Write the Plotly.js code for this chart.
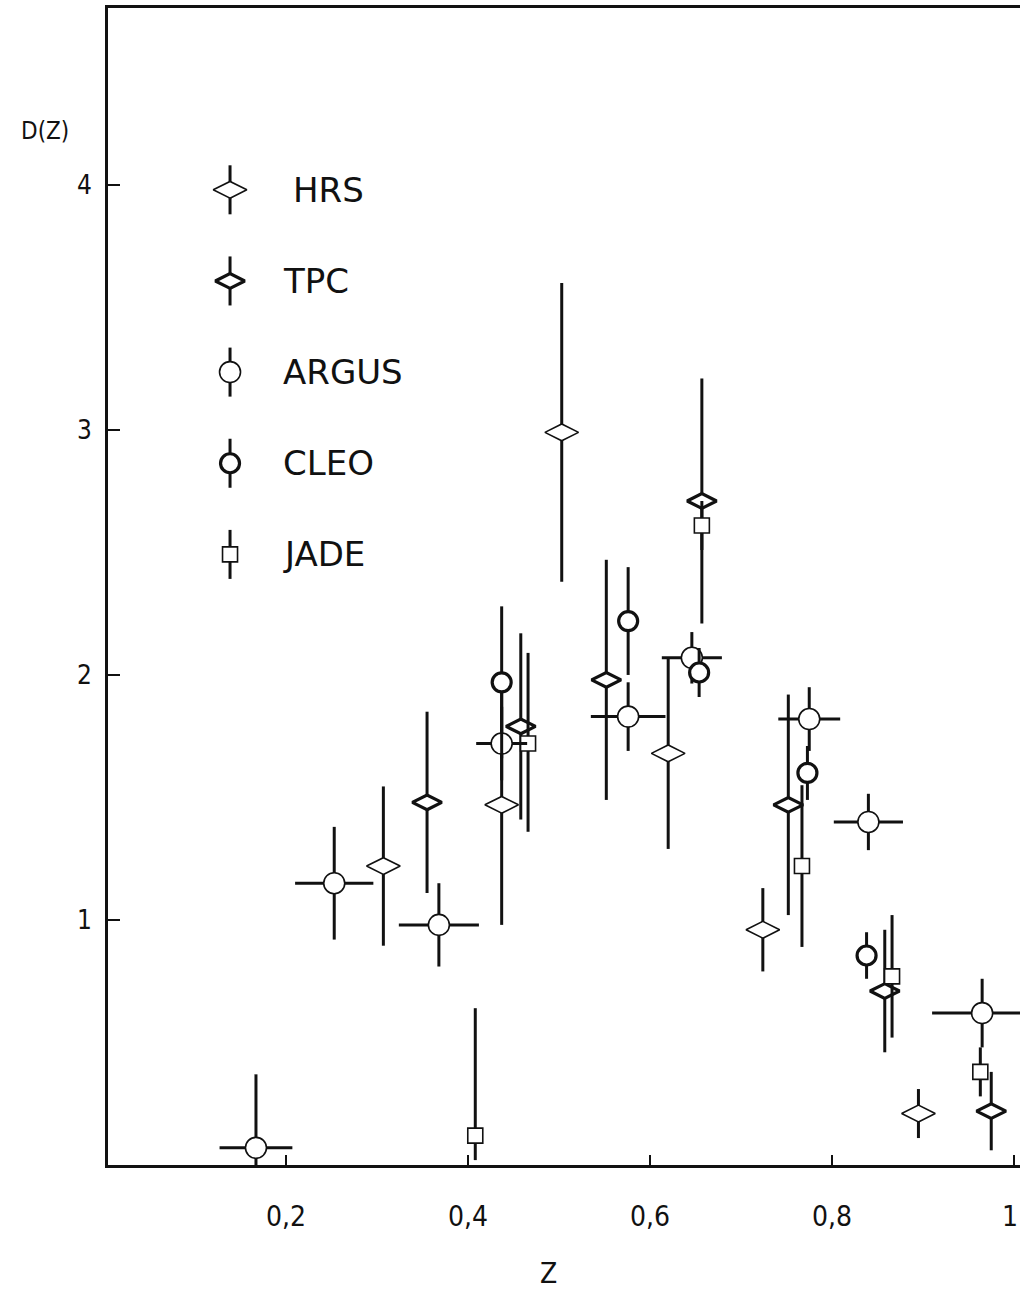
<!DOCTYPE html>
<html>
<head>
<meta charset="utf-8">
<script src="https://cdn.plot.ly/plotly-3.0.1.min.js"></script>
<style>
  html, body { margin: 0; padding: 0; background: #fff; }
  #chart { width: 1020px; height: 1291px; }
</style>
</head>
<body>
<div id="chart"></div>
<script>
// ---------------- data ----------------
const seriesNames = ["HRS", "TPC", "ARGUS", "CLEO", "JADE"];

const hrsZ = [0.307, 0.437, 0.503, 0.620, 0.724, 0.895];
const hrsD = [1.22, 1.47, 2.99, 1.68, 0.96, 0.21];
const hrsErr = [0.325, 0.49, 0.61, 0.39, 0.17, 0.10];

const tpcZ = [0.355, 0.458, 0.552, 0.657, 0.752, 0.858, 0.975];
const tpcD = [1.48, 1.79, 1.98, 2.71, 1.47, 0.71, 0.22];
const tpcErr = [0.37, 0.38, 0.49, 0.50, 0.45, 0.25, 0.16];

const argusZ = [0.167, 0.253, 0.368, 0.437, 0.576, 0.646, 0.775, 0.840, 0.965];
const argusD = [0.07, 1.15, 0.98, 1.72, 1.83, 2.07, 1.82, 1.40, 0.62];
const argusErrUp = [0.30, 0.23, 0.17, 0.15, 0.14, 0.105, 0.13, 0.115, 0.14];
const argusErrDown = [0.07, 0.23, 0.17, 0.15, 0.14, 0.105, 0.13, 0.115, 0.14];
const argusZErr = [0.040, 0.043, 0.044, 0.028, 0.041, 0.033, 0.034, 0.038, 0.055];

const cleoZ = [0.437, 0.576, 0.654, 0.773, 0.838];
const cleoD = [1.97, 2.22, 2.01, 1.60, 0.855];
const cleoErr = [0.31, 0.22, 0.10, 0.11, 0.095];

const jadeZ = [0.408, 0.466, 0.657, 0.767, 0.866, 0.963];
const jadeD = [0.12, 1.72, 2.61, 1.22, 0.77, 0.38];
const jadeErrUp = [0.52, 0.37, 0.10, 0.33, 0.25, 0.10];
const jadeErrDown = [0.10, 0.36, 0.10, 0.33, 0.25, 0.10];

const xTickVals = [0.2, 0.4, 0.6, 0.8, 1.0];
const xTickText = ["0,2", "0,4", "0,6", "0,8", "1"];
const yTickVals = [1, 2, 3, 4];
const yTickText = ["1", "2", "3", "4"];

// ---------------- styles ----------------
const INK = "#111";
const BAR_W = 3;
const TICK_FONT = { family: "DejaVu Sans Condensed, DejaVu Sans, sans-serif", size: 28, color: INK };
const markerStyles = {
  HRS:   { symbol: "diamond-wide", size: 24, color: "#fff", line: { color: INK, width: 1.6 } },
  TPC:   { symbol: "diamond-wide", size: 21, color: "#fff", line: { color: INK, width: 3.2 } },
  ARGUS: { symbol: "circle", size: 21, color: "#fff", line: { color: INK, width: 1.6 } },
  CLEO:  { symbol: "circle", size: 19, color: "#fff", line: { color: INK, width: 3.2 } },
  JADE:  { symbol: "square", size: 15, color: "#fff", line: { color: INK, width: 1.6 } }
};

function vErr(plus, minus) {
  const e = { type: "data", symmetric: minus === undefined, array: plus,
              color: INK, thickness: BAR_W, width: 0 };
  if (minus !== undefined) e.arrayminus = minus;
  return e;
}

function series(name, z, d, ey, extra) {
  return Object.assign({
    type: "scatter", mode: "markers", name: name, x: z, y: d,
    marker: markerStyles[name], error_y: ey, showlegend: false,
    cliponaxis: false, hoverinfo: "x+y+name"
  }, extra || {});
}

const traces = [
  series("HRS", hrsZ, hrsD, vErr(hrsErr)),
  series("TPC", tpcZ, tpcD, vErr(tpcErr)),
  series("JADE", jadeZ, jadeD, vErr(jadeErrUp, jadeErrDown)),
  series("ARGUS", argusZ, argusD, vErr(argusErrUp, argusErrDown), {
    error_x: { type: "data", symmetric: true, array: argusZErr, color: INK, thickness: BAR_W, width: 0 }
  }),
  series("CLEO", cleoZ, cleoD, vErr(cleoErr))
];

// ---------------- legend (drawn inside the frame, as in the original) ----------------
const LEG_Z = 0.1385, LEG_TOP = 3.98, LEG_STEP = 0.372, LEG_BAR = 0.10, LEG_TEXT_Z = 0.194;
const annotations = [];
seriesNames.forEach((name, i) => {
  const y = LEG_TOP - i * LEG_STEP;
  traces.push({
    type: "scatter", mode: "markers", x: [LEG_Z], y: [y], showlegend: false, hoverinfo: "skip",
    marker: markerStyles[name],
    error_y: { type: "constant", value: LEG_BAR, color: INK, thickness: BAR_W, width: 0 }
  });
  annotations.push({
    x: LEG_TEXT_Z + (name === "HRS" ? 0.012 : 0), y: y, xref: "x", yref: "y",
    text: name, showarrow: false, xanchor: "left", yanchor: "middle",
    font: { family: "DejaVu Sans, sans-serif", size: 34, color: INK }
  });
});

// ---------------- layout ----------------
const W = 1020, H = 1291, ML = 108, MR = 0, MT = 8, MB = 126;
const px2paperX = px => (px - ML) / (W - ML - MR);
const py2paperY = py => (H - MB - py) / (H - MT - MB);

annotations.push({
  x: px2paperX(45), y: py2paperY(131), xref: "paper", yref: "paper",
  text: "D(Z)", showarrow: false, xanchor: "center", yanchor: "middle",
  font: { family: "DejaVu Sans Condensed, DejaVu Sans, sans-serif", size: 24, color: INK }
});
annotations.push({
  x: px2paperX(548), y: py2paperY(1273), xref: "paper", yref: "paper",
  text: "Z", showarrow: false, xanchor: "center", yanchor: "middle",
  font: { family: "DejaVu Sans Condensed, DejaVu Sans, sans-serif", size: 28, color: INK }
});
// last x tick label sits at the cut right edge: keep it fully inside the page
const lastTick = xTickText.length - 1;
annotations.push({
  x: 1, y: py2paperY(1216), xref: "paper", yref: "paper",
  text: xTickText[lastTick], showarrow: false, xanchor: "right", yanchor: "middle",
  font: TICK_FONT
});

const layout = {
  width: W, height: H,
  margin: { l: ML, r: MR, t: MT, b: MB, pad: 0 },
  paper_bgcolor: "#fff", plot_bgcolor: "#fff",
  showlegend: false,
  xaxis: {
    range: [0.0044, 1.0066], showgrid: false, zeroline: false,
    showline: true, linecolor: INK, linewidth: 3, mirror: true,
    ticks: "inside", ticklen: 10, tickwidth: 2, tickcolor: INK,
    tickvals: xTickVals,
    ticktext: xTickText.map((t, i) => (i === lastTick ? "" : t)),
    ticklabelstandoff: 24,
    tickfont: TICK_FONT
  },
  yaxis: {
    range: [0, 4.722], showgrid: false, zeroline: false,
    showline: true, linecolor: INK, linewidth: 3, mirror: true,
    ticks: "inside", ticklen: 12, tickwidth: 2, tickcolor: INK,
    tickvals: yTickVals, ticktext: yTickText,
    ticklabelstandoff: 8,
    tickfont: { family: "DejaVu Sans Condensed, DejaVu Sans, sans-serif", size: 26, color: INK }
  },
  annotations: annotations
};

Plotly.newPlot("chart", traces, layout, { staticPlot: true, displayModeBar: false });
</script>
</body>
</html>
